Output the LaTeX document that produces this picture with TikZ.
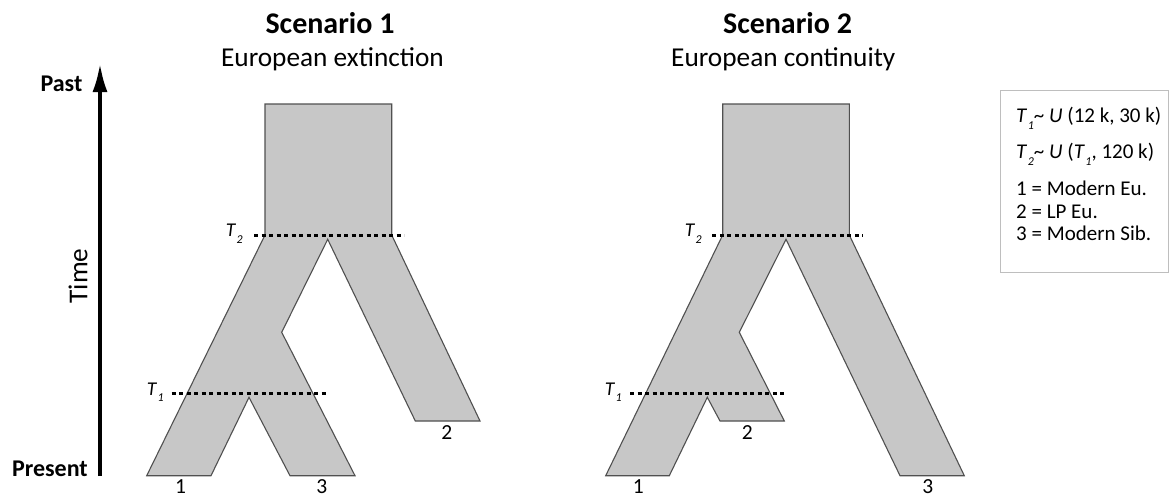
\documentclass[tikz,border=0pt]{standalone}
\usepackage{fontspec}
\setmainfont{Carlito}
\usetikzlibrary{arrows.meta}
\definecolor{treefill}{RGB}{199,199,199}
\definecolor{treeline}{RGB}{80,80,80}
\definecolor{boxline}{RGB}{190,190,190}
\newcommand{\fs}[1]{\fontsize{#1}{#1}\selectfont}
\newcommand{\Tlab}[3]{\textit{T}\kern0.6pt\raisebox{-#3pt}{\fontsize{#2}{#2}\selectfont\textit{#1}}}
\begin{document}
\begin{tikzpicture}[x=1pt,y=-1pt,
  tree/.style={fill=treefill,draw=treeline,line width=1.1pt,line join=miter},
  tline/.style={line width=3pt,dash pattern=on 4pt off 3.5pt},
  tlab/.style={anchor=base east,font=\fs{19.5},inner sep=0pt},
  leaf/.style={font=\fs{21.5},inner sep=0pt},
  title/.style={font=\fs{30}\bfseries,inner sep=0pt,anchor=base},
  subtitle/.style={font=\fs{27.3},inner sep=0pt,anchor=base},
  axlab/.style={font=\fs{24}\bfseries,inner sep=0pt,anchor=base east},
  legtext/.style={font=\fs{21},inner sep=0pt,anchor=base west}]
\useasboundingbox (0,0) rectangle (1173,498);

% titles
\node[title] (t1) at (330,33.5) {Scenario 1};
\node[subtitle] (s1) at (332.5,66) {European extinction};
\node[title] (t2) at (787.5,33.5) {Scenario 2};
\node[subtitle] (s2) at (783.3,66) {European continuity};

% time axis
\coordinate (axb) at (100,476);
\coordinate (axt) at (100,63);
\draw[line width=4pt,-{Latex[length=29pt,width=15pt]}] (axb) -- (axt);
\node[axlab] (past) at (82.5,91.7) {Past};
\node[axlab] (present) at (88,476) {Present};
\node[font=\fs{27.3},rotate=90,inner sep=0pt] (time) at (78,276) {Time};

% scenario 1 tree
\draw[tree] (265,104) -- (391.7,104) -- (391.7,235) -- (480,421) -- (415.3,421)
  -- (327.7,239.3) -- (281.7,332.3) -- (355,475.7) -- (290,475.7) -- (249,397.3)
  -- (211,475.7) -- (146.7,475.7) -- (265,235) -- cycle;
\coordinate (a2l) at (254,235); \coordinate (a2r) at (404,235);
\coordinate (a1l) at (171.7,393.3); \coordinate (a1r) at (328.3,393.3);
\draw[tline] (a2l) -- (a2r);
\draw[tline] (a1l) -- (a1r);
\node[tlab] (aT2) at (243,236.7) {\Tlab{2}{12}{6.5}};
\node[tlab] (aT1) at (164,395) {\Tlab{1}{12}{6.5}};
\node[leaf] (a1) at (180.5,486.5) {1};
\node[leaf] (a3) at (321.7,486.5) {3};
\node[leaf] (a2) at (446.7,433) {2};

% scenario 2 tree
\draw[tree] (722.7,104) -- (849.3,104) -- (849.3,235) -- (964.3,475.7) -- (900,475.7)
  -- (786,239.3) -- (739.3,332.3) -- (784.3,421) -- (720,421) -- (707.3,397.3)
  -- (669.3,475.7) -- (605.7,475.7) -- (722.7,235) -- cycle;
\coordinate (b2l) at (712.3,235); \coordinate (b2r) at (862.7,235);
\coordinate (b1l) at (630,393.3); \coordinate (b1r) at (786.7,393.3);
\draw[tline] (b2l) -- (b2r);
\draw[tline] (b1l) -- (b1r);
\node[tlab] (bT2) at (702,236.7) {\Tlab{2}{12}{6.5}};
\node[tlab] (bT1) at (622,395) {\Tlab{1}{12}{6.5}};
\node[leaf] (b1) at (638.3,486.5) {1};
\node[leaf] (b2) at (747.3,433) {2};
\node[leaf] (b3) at (927.7,486.5) {3};

% legend
\draw[boxline,line width=1pt] (1000,90) rectangle (1168,272);
\node[legtext] (l1) at (1016,122.3) {\Tlab{1}{12}{7}\textasciitilde\ \textit{U} (12 k, 30 k)};
\node[legtext] (l2) at (1016,158) {\Tlab{2}{12}{7}\textasciitilde\ \textit{U} (\Tlab{1}{12}{7}, 120 k)};
\node[legtext] (l3) at (1016,195.5) {1 = Modern Eu.};
\node[legtext] (l4) at (1016,218) {2 = LP Eu.};
\node[legtext] (l5) at (1016,240.5) {3 = Modern Sib.};
\end{tikzpicture}
\end{document}
